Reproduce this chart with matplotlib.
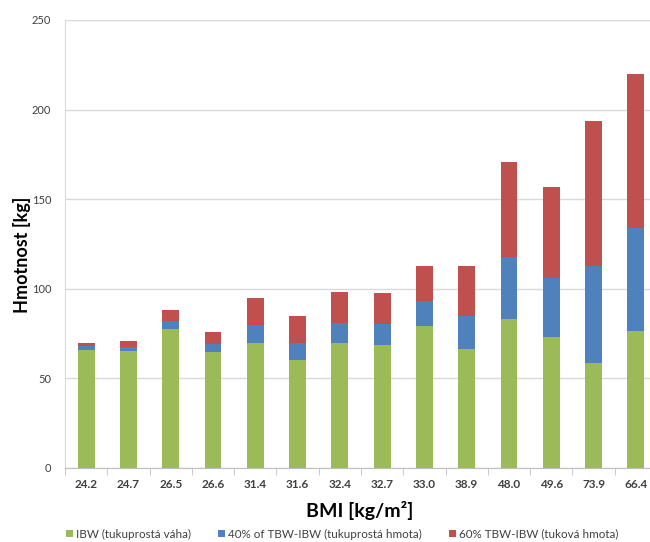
import matplotlib
matplotlib.use("Agg")
import matplotlib.pyplot as plt
import numpy as np

categories = ["24.2", "24.7", "26.5", "26.6", "31.4", "31.6", "32.4", "32.7",
              "33.0", "38.9", "48.0", "49.6", "73.9", "66.4"]
ibw = [66, 65.5, 77.5, 65, 70, 60.5, 70, 68.5, 79.5, 66.5, 83, 73, 58.5, 76.5]
lean40 = [2, 2, 4.5, 4, 10, 9.5, 11, 12, 13.5, 18.5, 35, 33, 54, 57.5]
fat60 = [2, 3.5, 6, 7, 15, 15, 17, 17, 19.5, 27.5, 53, 51, 81, 86]
series_labels = ["IBW (tukuprostá váha)", "40% of TBW-IBW (tukuprostá hmota)",
                 "60% TBW-IBW (tuková hmota)"]
colors = ["#9BBB59", "#4F81BD", "#C0504D"]

plt.rcParams['font.family'] = ['Lato', 'DejaVu Sans']

fig = plt.figure(figsize=(6.5, 5.42), dpi=100)
ax = fig.add_axes([65/650, 1-468/542, (657-65)/650, (468-20)/542])

x = np.arange(len(categories))
w = 0.4
b1 = ax.bar(x, ibw, w, color=colors[0], label=series_labels[0], zorder=3)
bottom2 = np.array(ibw)
b2 = ax.bar(x, lean40, w, bottom=bottom2, color=colors[1], label=series_labels[1], zorder=3)
bottom3 = bottom2 + np.array(lean40)
b3 = ax.bar(x, fat60, w, bottom=bottom3, color=colors[2], label=series_labels[2], zorder=3)

ax.set_xlim(-0.5, len(categories) - 0.5)
ax.set_ylim(0, 250)
ax.set_yticks(np.arange(0, 251, 50))
ax.yaxis.grid(True, color="#D9D9D9", linewidth=1.0, zorder=0)
ax.set_axisbelow(True)

for s in ["top", "right"]:
    ax.spines[s].set_visible(False)
ax.spines["left"].set_color("#D9D9D9")
ax.spines["bottom"].set_color("#BFBFBF")

ax.set_xticks(x)
ax.set_xticklabels(categories, fontsize=8.5, color="#404040", fontweight="bold")
ax.tick_params(axis="x", length=0, pad=8)
ax.set_xticks(np.arange(-0.5, len(categories), 1), minor=True)
ax.tick_params(axis="x", which="minor", length=5, color="#BFBFBF", direction="out")
ax.tick_params(axis="y", length=0, pad=10, labelsize=8, labelcolor="#404040")

fig.text(360/650, 1-510/542, "BMI [kg/m²]", ha="center", va="center",
         fontsize=14, fontweight="bold", color="#000000")
fig.text(22/650, 1-255/542, "Hmotnost [kg]", ha="center", va="center",
         rotation=90, fontsize=13, fontweight="bold", color="#000000")

# size legend text so the middle label is ~194 px wide, as in the reference
probe = fig.text(0, 0, series_labels[1], fontsize=10)
fig.canvas.draw()
pw = probe.get_window_extent().width
probe.remove()
lfs = 10 * 194 / pw
em = lfs * 100 / 72

fig.legend(handles=[b1, b2, b3], labels=series_labels, loc="center",
           bbox_to_anchor=(342/650, 1-534/542), ncol=3, frameon=False,
           fontsize=lfs, handlelength=7/em, handleheight=7/em, handletextpad=3/em,
           columnspacing=27/em, labelcolor="#404040", borderpad=0)

fig.savefig("out.png", dpi=100)
